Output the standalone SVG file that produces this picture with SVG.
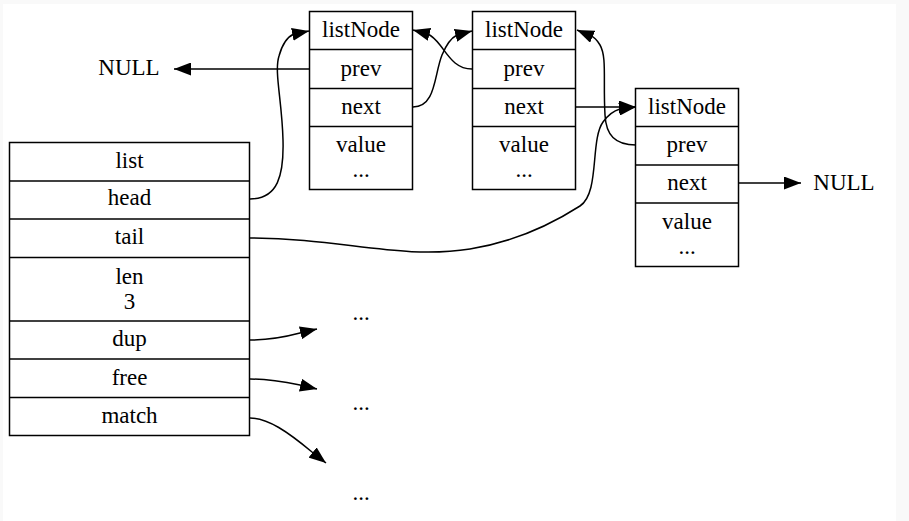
<svg xmlns="http://www.w3.org/2000/svg" width="909" height="521" viewBox="0 0 909 521">
<defs>
<style>
.box{fill:#fff;stroke:#000;stroke-width:1.5}
.sep{stroke:#000;stroke-width:1.5}
.t{font-family:"Liberation Serif","Times New Roman",serif;font-size:23px;fill:#000;text-anchor:middle}
.e{fill:none;stroke:#000;stroke-width:1.5;marker-end:url(#ah)}
</style>
<marker id="ah" markerUnits="userSpaceOnUse" markerWidth="18" markerHeight="13" refX="17" refY="6.5" orient="auto" viewBox="0 0 18 13">
<path d="M0,0 L17,6.5 L0,13 z" fill="#000"/>
</marker>
</defs>
<rect x="0" y="0" width="909" height="521" fill="#f9f9f9"/>
<rect x="3" y="4" width="893" height="517" fill="#fff"/>

<g id="list">
<rect class="box" x="9.5" y="142.5" width="240" height="293"/>
<line class="sep" x1="9.5" y1="181" x2="249.5" y2="181"/>
<line class="sep" x1="9.5" y1="219" x2="249.5" y2="219"/>
<line class="sep" x1="9.5" y1="257.5" x2="249.5" y2="257.5"/>
<line class="sep" x1="9.5" y1="321" x2="249.5" y2="321"/>
<line class="sep" x1="9.5" y1="359" x2="249.5" y2="359"/>
<line class="sep" x1="9.5" y1="397.5" x2="249.5" y2="397.5"/>
<text class="t" x="129.5" y="167.5">list</text>
<text class="t" x="129.5" y="205">head</text>
<text class="t" x="129.5" y="243.5">tail</text>
<text class="t" x="129.5" y="283.5">len</text>
<text class="t" x="129.5" y="308.5">3</text>
<text class="t" x="129.5" y="346">dup</text>
<text class="t" x="129.5" y="384.5">free</text>
<text class="t" x="129.5" y="422.5">match</text>
</g>

<g id="node1">
<rect class="box" x="309.5" y="11.5" width="103" height="178"/>
<line class="sep" x1="309.5" y1="49.5" x2="412.5" y2="49.5"/>
<line class="sep" x1="309.5" y1="88.5" x2="412.5" y2="88.5"/>
<line class="sep" x1="309.5" y1="126.5" x2="412.5" y2="126.5"/>
<text class="t" x="361" y="37">listNode</text>
<text class="t" x="361" y="75.5">prev</text>
<text class="t" x="361" y="113.5">next</text>
<text class="t" x="361" y="152">value</text>
<text class="t" x="361" y="177">...</text>
</g>

<g id="node2">
<rect class="box" x="472.5" y="11.5" width="103" height="178"/>
<line class="sep" x1="472.5" y1="49.5" x2="575.5" y2="49.5"/>
<line class="sep" x1="472.5" y1="88.5" x2="575.5" y2="88.5"/>
<line class="sep" x1="472.5" y1="126.5" x2="575.5" y2="126.5"/>
<text class="t" x="524" y="37">listNode</text>
<text class="t" x="524" y="75.5">prev</text>
<text class="t" x="524" y="113.5">next</text>
<text class="t" x="524" y="152">value</text>
<text class="t" x="524" y="177">...</text>
</g>

<g id="node3">
<rect class="box" x="635.5" y="88.5" width="103" height="178"/>
<line class="sep" x1="635.5" y1="126.5" x2="738.5" y2="126.5"/>
<line class="sep" x1="635.5" y1="165" x2="738.5" y2="165"/>
<line class="sep" x1="635.5" y1="203" x2="738.5" y2="203"/>
<text class="t" x="687" y="114">listNode</text>
<text class="t" x="687" y="152">prev</text>
<text class="t" x="687" y="190">next</text>
<text class="t" x="687" y="229">value</text>
<text class="t" x="687" y="254">...</text>
</g>

<g id="null_left"><text class="t" x="129" y="75">NULL</text></g>
<g id="null_right"><text class="t" x="844" y="190">NULL</text></g>
<g id="dots_dup"><text class="t" x="361" y="320">...</text></g>
<g id="dots_free"><text class="t" x="361" y="410">...</text></g>
<g id="dots_match"><text class="t" x="361" y="500">...</text></g>

<g id="edges">
<path class="e" d="M309,69 L174,69"/>
<path class="e" d="M250,199 C278,199 284,175 283,140 C282,100 274,72 279,56 C282,45 287,37 294,34 L309,31"/>
<path class="e" d="M413,107 C436,107 434,75 442,55 C447,43 451,38 457,35 L472,31"/>
<path class="e" d="M472,69 C455,69 448,55 440,45 C436,40 432,36 428,34 L413,30"/>
<path class="e" d="M576,107 L636,107"/>
<path class="e" d="M636,145 C615,145 606,135 605,115 C603,80 607,57 600,45 C597,40 594,37 591,36 L577,30"/>
<path class="e" d="M250,238 C340,238 400,260 470,249 C520,241 555,222 580,206 C600,193 590,140 603,122 C608,115 613,111 620,109 L636,107"/>
<path class="e" d="M739,183 L801,183"/>
<path class="e" d="M250,340 C268,340 285,337 300,333 L317,329"/>
<path class="e" d="M250,379 C268,379 285,382 300,385 L317,389"/>
<path class="e" d="M250,418 C268,418 288,432 312,452 L326,463"/>
</g>
</svg>
